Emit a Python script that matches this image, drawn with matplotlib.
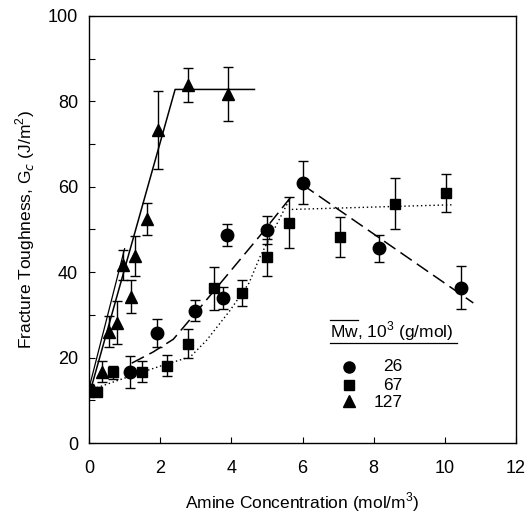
import matplotlib
matplotlib.use("Agg")
import matplotlib.pyplot as plt
import numpy as np

plt.rcParams['font.family'] = ['Liberation Sans', 'DejaVu Sans']
plt.rcParams['mathtext.fontset'] = 'custom'
plt.rcParams['mathtext.rm'] = 'Liberation Sans'

# Mw = 26 (circles)
c_x = [0.0, 1.15, 1.90, 2.98, 3.77, 3.87, 5.01, 6.00, 8.15, 10.45]
c_y = [12.3, 16.6, 25.8, 31.0, 33.9, 48.7, 49.9, 61.0, 45.6, 36.4]
c_e = [1.5, 3.7, 3.3, 2.5, 2.6, 2.6, 3.3, 5.0, 3.2, 5.0]

# Mw = 67 (squares)
s_x = [0.0, 0.22, 0.68, 1.48, 2.18, 2.79, 3.51, 4.29, 4.99, 5.63, 7.05, 8.61, 10.02]
s_y = [12.3, 12.0, 16.6, 16.7, 18.1, 23.3, 36.2, 35.1, 43.5, 51.6, 48.3, 56.0, 58.6]
s_e = [1.0, 1.0, 1.5, 2.4, 2.4, 3.3, 5.0, 3.0, 4.3, 6.0, 4.7, 6.0, 4.5]

# Mw = 127 (triangles)
t_x = [0.0, 0.36, 0.57, 0.80, 0.95, 1.18, 1.29, 1.64, 1.93, 2.79, 3.90]
t_y = [12.3, 16.7, 26.1, 28.2, 41.7, 34.3, 43.8, 52.4, 73.3, 83.8, 81.7]
t_e = [1.0, 2.5, 3.7, 5.0, 3.6, 3.8, 4.7, 3.7, 9.2, 4.0, 6.4]

# fitted lines
sol_x = [0.03, 2.42, 4.65]
sol_y = [12.0, 82.8, 82.8]
sol2_x = [0.0, 1.0]
sol2_y = [12.8, 45.5]
dash1_x = [1.2, 1.8, 2.37, 3.0, 3.5, 4.24, 4.8, 5.75]
dash1_y = [18.7, 21.3, 24.3, 30.5, 35.5, 42.9, 48.5, 58.4]
dash2_x = [6.0, 10.8]
dash2_y = [60.5, 32.8]
dot1_x = [0.0, 1.0, 2.0, 2.85, 3.3, 3.96, 4.5, 4.8, 5.2, 5.65]
dot1_y = [12.3, 15.2, 18.0, 20.2, 24.0, 31.0, 37.5, 43.5, 50.0, 57.3]
dot2_x = [5.7, 10.25]
dot2_y = [54.7, 55.8]

legend_title = 'Mw, 10$^{3}$ (g/mol)'
legend_labels = ['26', '67', '127']

fig = plt.figure(figsize=(5.27, 5.14), dpi=100)
ax = fig.add_axes([89/527, 71/514, 427/527, 427/514])

ax.plot(sol_x, sol_y, '-', color='black', lw=1.1)
ax.plot(sol2_x, sol2_y, '-', color='black', lw=0.9)
ax.plot(dash1_x, dash1_y, color='black', lw=1.1, dashes=(9, 4))
ax.plot(dash2_x, dash2_y, color='black', lw=1.1, dashes=(9, 4))
ax.plot(dot1_x, dot1_y, color='black', lw=1.0, dashes=(1, 2))
ax.plot(dot2_x, dot2_y, color='black', lw=1.0, dashes=(1, 2))

ekw = dict(color='black', ecolor='black', elinewidth=1.0, capsize=3.6, capthick=1.0, linestyle='none')
ax.errorbar(c_x, c_y, yerr=c_e, marker='o', ms=9, **ekw)
ax.errorbar(s_x, s_y, yerr=s_e, marker='s', ms=7.5, **ekw)
ax.errorbar(t_x, t_y, yerr=t_e, marker='^', ms=9, **ekw)

ax.set_xlim(0, 12)
ax.set_ylim(0, 100)
ax.set_xticks(np.arange(0, 13, 2))
ax.set_yticks(np.arange(0, 101, 20))
ax.set_yticks(np.arange(10, 100, 20), minor=True)
ax.tick_params(direction='in', length=4, width=0.8, labelsize=13)
ax.tick_params(axis='x', pad=12)
ax.tick_params(axis='y', pad=8)
ax.tick_params(which='minor', direction='in', length=4, width=0.8)
for sp in ax.spines.values():
    sp.set_linewidth(1.0)

ax.set_xlabel('Amine Concentration (mol/m$^{3}$)', fontsize=12.5, labelpad=10)
ax.set_ylabel('Fracture Toughness, G$_{c}$ (J/m$^{2}$)', fontsize=12.5, labelpad=8)

# manual legend
tr = ax.transAxes
ax.text(0.564, 0.2607, legend_title, transform=tr, fontsize=12.5, ha='left', va='center')
ax.plot([0.564, 0.630], [0.288, 0.288], transform=tr, color='black', lw=0.9, clip_on=False)
ax.plot([0.564, 0.862], [0.2335, 0.2335], transform=tr, color='black', lw=0.9, clip_on=False)
mk = ['o', 's', '^']
ms = [8, 7, 8.5]
ys = [0.1787, 0.1358, 0.0984]
ly = [0.1787, 0.1358, 0.0937]
for m, s, yy, lyy, lab in zip(mk, ms, ys, ly, legend_labels):
    ax.plot([0.609], [yy], marker=m, ms=s, color='black', transform=tr, linestyle='none')
    ax.text(0.735, lyy, lab, transform=tr, fontsize=12.5, ha='right', va='center')

fig.savefig('out.png', dpi=100)
